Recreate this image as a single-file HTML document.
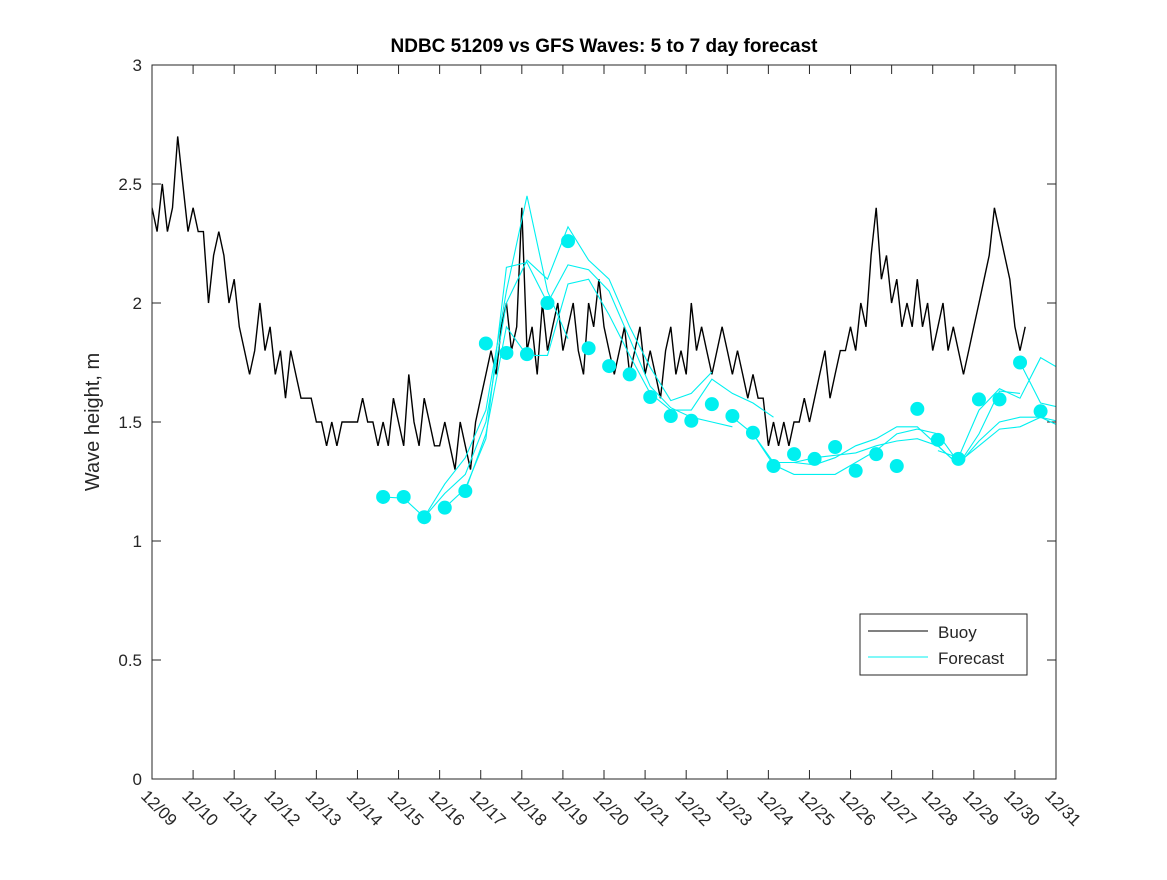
<!DOCTYPE html>
<html><head><meta charset="utf-8"><style>
body{margin:0;background:#fff;}
svg text{font-family:"Liberation Sans","DejaVu Sans",sans-serif;fill:#262626;}
</style></head><body>
<svg id="chart" width="1167" height="875" xmlns="http://www.w3.org/2000/svg">
<defs><clipPath id="pc"><rect x="152" y="65" width="904" height="714"/></clipPath></defs>
<rect width="1167" height="875" fill="#fff"/>
<text x="604" y="52" text-anchor="middle" font-size="19" font-weight="bold" style="fill:#000">NDBC 51209 vs GFS Waves: 5 to 7 day forecast</text>
<text transform="translate(99,422) rotate(-90)" text-anchor="middle" font-size="20">Wave height, m</text>
<g id="grid"></g>
<g id="marks" clip-path="url(#pc)"></g>
<rect x="152" y="65" width="904" height="714" fill="none" stroke="#262626" stroke-width="1"/>
<g>
<rect x="860" y="614" width="167" height="61" fill="#fff" stroke="#262626"/>
<line x1="868" y1="631" x2="928" y2="631" stroke="#000"/>
<text x="938" y="638" font-size="17">Buoy</text>
<line x1="868" y1="657" x2="928" y2="657" stroke="#00f0f0"/>
<text x="938" y="664" font-size="17">Forecast</text>
</g>
</svg>
<script>
const yTicks=[0,0.5,1,1.5,2,2.5,3];
const xTickLabels=["12/09","12/10","12/11","12/12","12/13","12/14","12/15","12/16","12/17","12/18","12/19","12/20","12/21","12/22","12/23","12/24","12/25","12/26","12/27","12/28","12/29","12/30","12/31"];
const buoyStepDays=0.125;
const buoy=[2.4,2.3,2.5,2.3,2.4,2.7,2.5,2.3,
2.4,2.3,2.3,2.0,2.2,2.3,2.2,2.0,
2.1,1.9,1.8,1.7,1.8,2.0,1.8,1.9,
1.7,1.8,1.6,1.8,1.7,1.6,1.6,1.6,
1.5,1.5,1.4,1.5,1.4,1.5,1.5,1.5,
1.5,1.6,1.5,1.5,1.4,1.5,1.4,1.6,
1.5,1.4,1.7,1.5,1.4,1.6,1.5,1.4,
1.4,1.5,1.4,1.3,1.5,1.4,1.3,1.5,
1.6,1.7,1.8,1.7,1.9,2.0,1.8,1.9,
2.4,1.8,1.9,1.7,2.0,1.8,1.9,2.0,
1.8,1.9,2.0,1.8,1.7,2.0,1.9,2.1,
1.9,1.8,1.7,1.8,1.9,1.7,1.8,1.9,
1.7,1.8,1.7,1.6,1.8,1.9,1.7,1.8,
1.7,2.0,1.8,1.9,1.8,1.7,1.8,1.9,
1.8,1.7,1.8,1.7,1.6,1.7,1.6,1.6,
1.4,1.5,1.4,1.5,1.4,1.5,1.5,1.6,
1.5,1.6,1.7,1.8,1.6,1.7,1.8,1.8,
1.9,1.8,2.0,1.9,2.2,2.4,2.1,2.2,
2.0,2.1,1.9,2.0,1.9,2.1,1.9,2.0,
1.8,1.9,2.0,1.8,1.9,1.8,1.7,1.8,
1.9,2.0,2.1,2.2,2.4,2.3,2.2,2.1,
1.9,1.8,1.9];
const fcStart=5.625, fcStep=0.5;
const dots=[1.185,1.185,1.10,1.14,1.21,1.83,1.79,1.785,2.0,2.26,1.81,1.735,1.70,1.605,1.525,1.505,1.575,1.525,1.455,1.315,1.365,1.345,1.395,1.295,1.365,1.315,1.555,1.425,1.345,1.595,1.595,1.75,1.545];
const run1Start=0, run1=[1.185,1.18,1.10,1.24,1.35,1.55,2.05,2.45,2.05,1.85];
const run2Start=2, run2=[1.10,1.20,1.28,1.50,2.00,2.18,2.10,2.32,2.18,2.10,1.90,1.73,1.59,1.62,1.71];
const run3Start=3, run3=[1.14,1.22,1.43,2.15,2.17,2.00,2.16,2.14,2.05,1.85,1.65,1.56,1.52,1.50,1.48];
const run4Start=4, run4=[1.21,1.45,1.90,1.78,1.78,2.08,2.10,1.95,1.78,1.62,1.55,1.55,1.68,1.62,1.58,1.52];
const run5Start=17, run5=[1.52,1.45,1.33,1.33,1.32,1.35,1.40,1.43,1.48,1.48,1.40,1.32,1.45,1.63,1.62];
const run6Start=18, run6=[1.45,1.32,1.28,1.28,1.28,1.33,1.38,1.45,1.47,1.45,1.33,1.40,1.47,1.48,1.52,1.50];
const run7Start=19, run7=[1.33,1.33,1.35,1.36,1.37,1.40,1.42,1.43,1.40,1.32,1.42,1.50,1.52,1.52,1.48];
const run8Start=27, run8=[1.38,1.35,1.55,1.64,1.60,1.77,1.72];
const run9Start=31, run9=[1.75,1.58,1.56];

const X0=152,X1=1056,Y0=779,Y1=65;
const xs=d=>X0+(X1-X0)*d/22;
const ys=v=>Y0-(Y0-Y1)*v/3;
const NS="http://www.w3.org/2000/svg";
const grid=document.getElementById('grid'), marks=document.getElementById('marks');
function mk(t,a,p){const e=document.createElementNS(NS,t);for(const k in a)e.setAttribute(k,a[k]);p.appendChild(e);return e;}
yTicks.forEach(v=>{
  const y=ys(v);
  const t1=mk('line',{x1:X0,y1:y,x2:X0+9,y2:y,stroke:'#262626'},grid);
  
  
  const t2=mk('line',{x1:X1-9,y1:y,x2:X1,y2:y,stroke:'#262626'},grid);
  
  
  const tx=mk('text',{x:X0-10,y:y+6,'text-anchor':'end','font-size':17},grid);
  tx.textContent=String(v);
  
  
});
xTickLabels.forEach((lab,i)=>{
  const x=xs(i);
  const t1=mk('line',{x1:x,y1:Y0,x2:x,y2:Y0-9,stroke:'#262626'},grid);
  
  
  const t2=mk('line',{x1:x,y1:Y1,x2:x,y2:Y1+9,stroke:'#262626'},grid);
  
  
  const tx=mk('text',{transform:`translate(${x-12},${Y0+18}) rotate(45)`,'font-size':17},grid);
  tx.textContent=lab;
  
  
});
const bp=buoy.map((v,i)=>xs(i*buoyStepDays).toFixed(1)+','+ys(v).toFixed(1)).join(' ');
const bl=mk('polyline',{points:bp,fill:'none',stroke:'#000','stroke-width':1.4},marks);


[[run1Start,run1],[run2Start,run2],[run3Start,run3],[run4Start,run4],[run5Start,run5],[run6Start,run6],[run7Start,run7],[run8Start,run8],[run9Start,run9]].forEach(([s,arr])=>{
  const p=arr.map((v,i)=>xs(fcStart+(s+i)*fcStep).toFixed(1)+','+ys(v).toFixed(1)).join(' ');
  const l=mk('polyline',{points:p,fill:'none',stroke:'#00f0f0','stroke-width':1.1},marks);
  
  
});
dots.forEach((v,i)=>{
  const c=mk('circle',{cx:xs(fcStart+i*fcStep),cy:ys(v),r:7,fill:'#00f0f0'},marks);
  
  
});
</script>
</body></html>
